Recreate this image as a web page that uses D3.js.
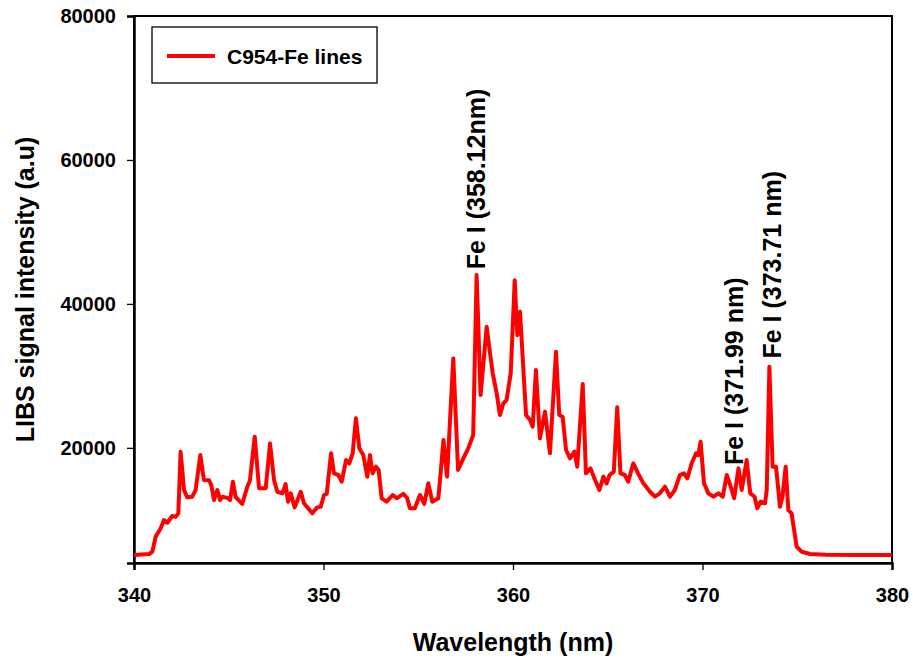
<!DOCTYPE html>
<html>
<head>
<meta charset="utf-8">
<title>LIBS spectrum C954</title>
<script src="https://cdn.jsdelivr.net/npm/d3@7"></script>
<style>
    body { margin: 0; background: #fff; }
    #chart-area { width: 913px; height: 662px; }
    text { font-family: Arial, "Liberation Sans", sans-serif; font-weight: bold; fill: #000; }
</style>
</head>
<body>
<div id="chart-area"></div>
<script>

// spectrum (nm, a.u.)
let wavelengths = [
    340.0, 340.8, 340.97, 341.14, 341.41, 341.58, 341.76, 342.02, 342.2, 342.34,
    342.46, 342.64, 342.81, 343.07, 343.25, 343.5, 343.69, 343.96, 344.08, 344.22,
    344.4, 344.54, 344.66, 344.93, 345.07, 345.22, 345.36, 345.71, 345.98, 346.12,
    346.37, 346.6, 346.95, 347.18, 347.39, 347.56, 347.83, 348.0, 348.13, 348.27,
    348.48, 348.8, 348.97, 349.41, 349.67, 349.85, 350.03, 350.17, 350.4, 350.55,
    350.78, 350.96, 351.19, 351.36, 351.54, 351.71, 351.89, 352.1, 352.31, 352.45,
    352.59, 352.77, 352.91, 353.07, 353.33, 353.65, 353.86, 354.21, 354.42, 354.56,
    354.82, 355.09, 355.32, 355.53, 355.74, 356.06, 356.18, 356.33, 356.52, 356.85,
    357.1, 357.38, 357.64, 357.9, 358.08, 358.29, 358.61, 358.79, 358.93, 359.14,
    359.31, 359.49, 359.66, 359.88, 360.09, 360.23, 360.37, 360.55, 360.69, 360.9,
    361.04, 361.21, 361.42, 361.69, 361.95, 362.27, 362.44, 362.62, 362.8, 363.01,
    363.24, 363.39, 363.68, 363.85, 364.09, 364.33, 364.56, 364.77, 364.94, 365.1,
    365.32, 365.5, 365.67, 365.9, 366.08, 366.35, 366.6, 366.88, 367.23, 367.49,
    367.75, 368.02, 368.28, 368.54, 368.81, 369.02, 369.2, 369.43, 369.66, 369.78,
    369.9, 370.08, 370.31, 370.57, 370.84, 371.07, 371.28, 371.49, 371.67, 371.9,
    372.07, 372.33, 372.52, 372.75, 372.89, 373.07, 373.3, 373.39, 373.53, 373.7,
    373.88, 374.09, 374.22, 374.39, 374.53, 374.7, 374.97, 375.23, 375.67, 376.5,
    378.0, 380.0
];

let intensities = [
    5100, 5250, 5570, 7650, 8820, 9970, 9600, 10530, 10400, 10900,
    19460, 14140, 13120, 13200, 14100, 19000, 15530, 15500, 14830, 12750,
    14140, 12750, 13200, 13050, 12750, 15300, 13200, 12200, 14600, 15500,
    21540, 14370, 14370, 20620, 15530, 13900, 13670, 14970, 12520, 13670,
    11730, 13900, 12290, 10900, 11730, 11800, 13450, 13600, 19240, 16460,
    16230, 15300, 18300, 17830, 19240, 24100, 19930, 19000, 16000, 19000,
    16460, 17380, 16920, 12990, 12520, 13450, 12990, 13600, 13000, 11600,
    11600, 13450, 12200, 15070, 12520, 13000, 16460, 21080, 16000, 32430,
    16920, 18540, 19930, 21780, 44000, 27330, 36820, 33110, 30350, 27570,
    24560, 26180, 26640, 30350, 43300, 35660, 38900, 30820, 24560, 23870,
    22940, 30820, 21320, 25030, 19240, 33350, 24560, 24330, 19700, 18540,
    19470, 17380, 28860, 16460, 17150, 15530, 14140, 16000, 15070, 16230,
    16690, 25630, 16460, 16230, 15300, 17850, 16460, 15070, 13900, 13210,
    13680, 14600, 13210, 14140, 16230, 16460, 15770, 17850, 19240, 19000,
    20850, 15070, 13680, 13210, 13680, 13210, 16230, 14600, 12990, 17150,
    14140, 18300, 13680, 13210, 11600, 12530, 12300, 14140, 31270, 17380,
    17380, 11820, 13210, 17380, 11360, 10900, 6260, 5570, 5250, 5150,
    5100, 5100
];

let xTicks = [340, 350, 360, 370, 380];
let yTicks = [20000, 40000, 60000, 80000];

let seriesName = "C954-Fe lines";

// labelled Fe lines: text and the (wavelength, intensity) point the label starts at
let lineLabels = ["Fe I (358.12nm)", "Fe I (371.99 nm)", "Fe I (373.71 nm)"];
let labelWavelengths = [358.12, 371.7, 373.71];
let labelIntensities = [44800, 17600, 32400];


class LibsViz {

    constructor(parentElement) {
        this.parentElement = parentElement;
        this.initVis();
    }

    initVis() {
        let vis = this;
        vis.margin = {top: 16, right: 21, bottom: 99, left: 134};
        vis.width = 913 - vis.margin.left - vis.margin.right;
        vis.height = 662 - vis.margin.top - vis.margin.bottom;

        vis.svg = d3.select("#" + vis.parentElement).append("svg")
            .attr("width", 913)
            .attr("height", 662)
            .append("g")
            .attr("transform", "translate(" + vis.margin.left + "," + vis.margin.top + ")");

        vis.x = d3.scaleLinear().domain([340, 380]).range([0, vis.width]);
        vis.y = d3.scaleLinear().domain([4000, 80000]).range([vis.height, 0]);

        vis.wrangleData();
    }

    wrangleData() {
        let vis = this;
        vis.displayData = wavelengths.map((w, i) => ({wl: w, val: intensities[i]}));
        vis.labels = lineLabels.map((t, i) => ({text: t, wl: labelWavelengths[i], val: labelIntensities[i]}));
        vis.updateVis();
    }

    updateVis() {
        let vis = this;

        // frame (top + right)
        vis.svg.append("rect")
            .attr("width", vis.width)
            .attr("height", vis.height)
            .attr("fill", "none")
            .attr("stroke", "#000")
            .attr("stroke-width", 2);

        // axes
        let xAxis = d3.axisBottom(vis.x)
            .tickValues(xTicks)
            .tickFormat(d3.format("d"))
            .tickSize(7)
            .tickPadding(18);

        let yAxis = d3.axisLeft(vis.y)
            .tickValues(yTicks)
            .tickFormat(d3.format("d"))
            .tickSize(7)
            .tickPadding(11);

        let gx = vis.svg.append("g")
            .attr("class", "x-axis axis")
            .attr("transform", "translate(0," + vis.height + ")")
            .call(xAxis);

        let gy = vis.svg.append("g")
            .attr("class", "y-axis axis")
            .call(yAxis);

        [gx, gy].forEach(g => {
            g.select(".domain").attr("stroke-width", 2.5);
            g.selectAll(".tick line").attr("stroke-width", 1.3);
            g.selectAll(".tick text")
                .attr("font-size", 20)
                .attr("font-family", "Arial, 'Liberation Sans', sans-serif")
                .attr("font-weight", "bold")
                .attr("fill", "#000");
        });

        // spectrum
        let line = d3.line()
            .x(d => vis.x(d.wl))
            .y(d => vis.y(d.val));

        vis.svg.append("path")
            .datum(vis.displayData)
            .attr("fill", "none")
            .attr("stroke", "#ff0000")
            .attr("stroke-width", 4)
            .attr("stroke-linejoin", "round")
            .attr("d", line);

        // peak labels
        vis.svg.selectAll(".peak-label")
            .data(vis.labels)
            .enter()
            .append("text")
            .attr("class", "peak-label")
            .attr("font-size", 25)
            .attr("transform", d => "translate(" + (vis.x(d.wl) + 8) + "," + vis.y(d.val) + ") rotate(-90)")
            .text(d => d.text);

        // axis titles
        vis.svg.append("text")
            .attr("x", vis.width / 2)
            .attr("y", vis.height + 88)
            .attr("text-anchor", "middle")
            .attr("font-size", 25)
            .text("Wavelength (nm)");

        vis.svg.append("text")
            .attr("transform", "translate(" + (-100) + "," + (vis.height / 2) + ") rotate(-90)")
            .attr("text-anchor", "middle")
            .attr("font-size", 25)
            .text("LIBS signal intensity (a.u)");

        // legend
        let legend = vis.svg.append("g")
            .attr("transform", "translate(18,11)");

        legend.append("rect")
            .attr("width", 225)
            .attr("height", 56)
            .attr("fill", "#fff")
            .attr("stroke", "#000")
            .attr("stroke-width", 1.3);

        legend.append("line")
            .attr("x1", 15)
            .attr("x2", 63)
            .attr("y1", 29)
            .attr("y2", 29)
            .attr("stroke", "#ff0000")
            .attr("stroke-width", 4);

        legend.append("text")
            .attr("x", 75)
            .attr("y", 37)
            .attr("font-size", 21)
            .text(seriesName);
    }
}

new LibsViz("chart-area");

</script>
</body>
</html>
